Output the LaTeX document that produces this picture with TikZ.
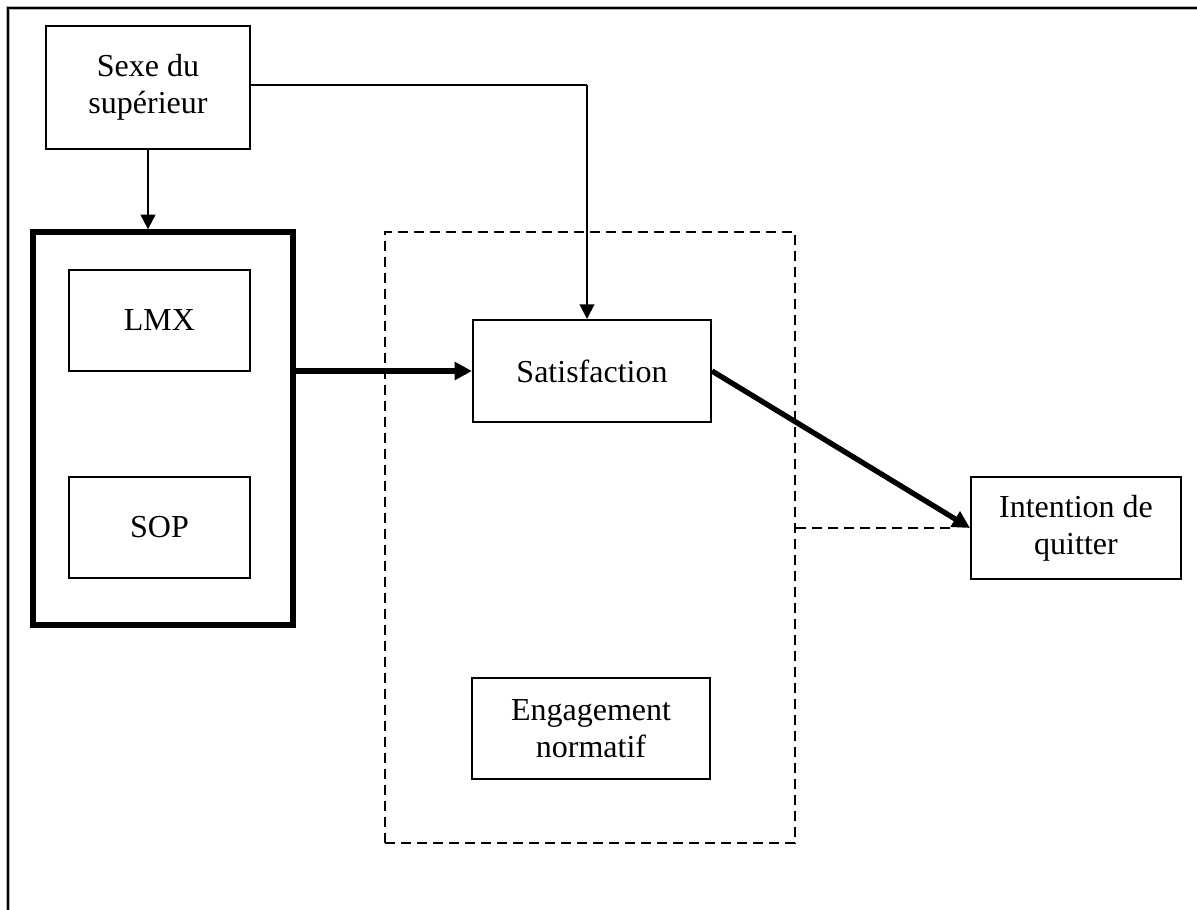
\documentclass[tikz,border=0pt]{standalone}
\usepackage{fontspec}
\setmainfont{Liberation Serif}
\usetikzlibrary{arrows.meta,calc}
\begin{document}
\begin{tikzpicture}[x=0.75pt,y=-0.75pt,
  box/.style={draw,line width=1.5pt,rectangle,inner sep=0pt,align=center,font=\fontsize{24}{28}\selectfont},
  thickbox/.style={draw,line width=4pt,rectangle,inner sep=0pt},
  dashbox/.style={draw,line width=1.5pt,dash pattern=on 7.5pt off 4.5pt,rectangle,inner sep=0pt},
  thinarrow/.style={line width=1.5pt,-{Triangle[length=11pt,width=11pt]}},
  thickarrow/.style={line width=4pt,-{Triangle[length=13pt,width=13pt]}},
  dashline/.style={line width=1.5pt,dash pattern=on 7.5pt off 4.5pt}
]
\useasboundingbox (0,0) rectangle (1197,910);
% outer frame
\coordinate (fbl) at (8,912);
\coordinate (ftl) at (8,8);
\coordinate (ftr) at (1199,8);
\draw[line width=2.6pt,gray!60] (fbl) -- (ftl) -- (ftr);
\draw[line width=1.3pt,black] (fbl) -- (ftl) -- (ftr);

\node[dashbox,minimum width=307.5pt,minimum height=458.25pt] (dbox) at (590,537.5) {};
\node[thickbox,minimum width=195pt,minimum height=294.75pt] (big) at (163,428.5) {};

\node[box,minimum width=153pt,minimum height=92.25pt] (sexe) at (148,87.5) {Sexe du\\supérieur};
\node[box,minimum width=135.75pt,minimum height=75.75pt] (lmx) at (159.5,320.5) {LMX};
\node[box,minimum width=135.75pt,minimum height=75.75pt] (sop) at (159.5,527.5) {SOP};
\node[box,minimum width=178.5pt,minimum height=76.5pt,fill=white] (sat) at (592,371) {Satisfaction};
\node[box,minimum width=178.5pt,minimum height=75.75pt] (eng) at (591,728.5) {Engagement\\normatif};
\node[box,minimum width=157.5pt,minimum height=76.5pt] (int) at (1076,528) {Intention de\\quitter};

\coordinate (corner) at (587,85);
\draw[thinarrow] (sexe.south) -- (sexe.south |- big.north);
\draw[line width=1.5pt] (sexe.east |- corner) -- (corner);
\draw[thinarrow] (corner) -- (corner |- sat.north);
\draw[thickarrow] (big.east |- sat.west) -- (sat.west);
\draw[dashline] (dbox.east |- int.west) -- ($(int.west)+(-14,0)$);
\draw[thickarrow] (sat.east) -- (int.west);
\end{tikzpicture}
\end{document}
